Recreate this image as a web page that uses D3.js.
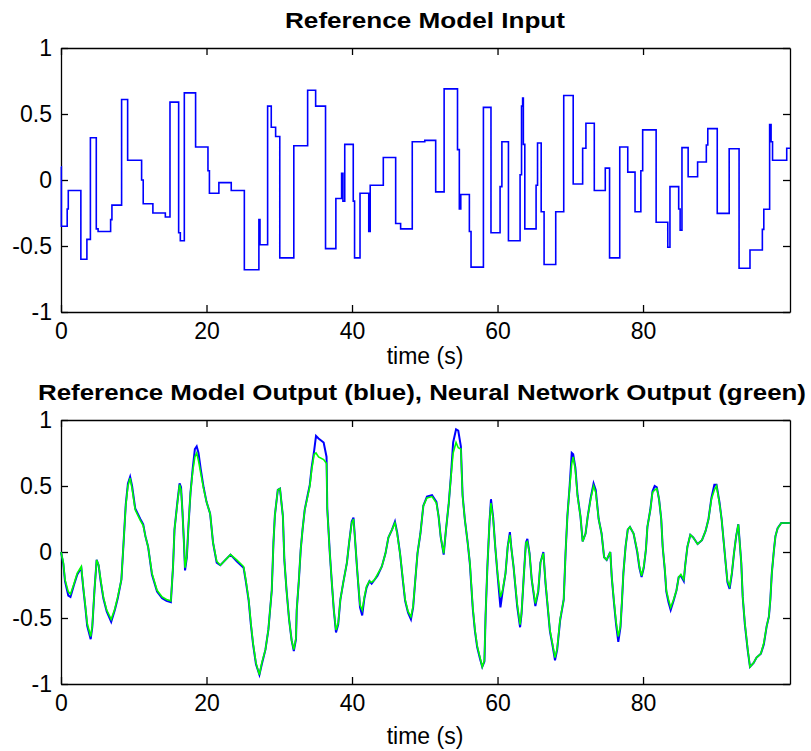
<!DOCTYPE html>
<html>
<head>
<meta charset="utf-8">
<script src="https://cdn.jsdelivr.net/npm/d3@7/dist/d3.min.js"></script>
<style>
  html, body { margin: 0; padding: 0; background: #fff; }
  svg { display: block; }
  .tick text { font-family: "Liberation Sans", Arial, Helvetica, sans-serif; font-size: 23px; fill: #000; }
  .label { font-family: "Liberation Sans", Arial, Helvetica, sans-serif; font-size: 23px; fill: #000; }
  .title { font-family: "Liberation Sans", Arial, Helvetica, sans-serif; font-size: 22px; font-weight: bold; fill: #000; }
</style>
</head>
<body>
<svg id="chart" width="811" height="751"></svg>
<script>
// ---- Reference model input: piecewise-constant levels (time each level starts, level) ----
const inputT = [0, 0.05, 0.85, 1.0, 2.73, 3.56, 4.04, 4.85, 5.1, 6.82, 7.0, 8.33, 9.16, 11.08, 11.3, 12.63,
  14.34, 14.98, 16.17, 16.4, 16.95, 18.5, 20.2, 20.4, 21.7, 23.4, 25.2, 27.2, 27.35, 28.4, 28.9, 29.5,
  30.07, 32.0, 33.9, 35.0, 36.36, 37.78, 38.57, 38.75, 39.0, 40.17, 40.35, 41.1, 42.3, 42.5, 44.3, 46.0,
  46.68, 48.28, 50.0, 51.5, 52.66, 54.5, 54.75, 54.95, 56.13, 56.36, 58.06, 59.1, 60.35, 60.6, 61.5, 63.1,
  63.3, 63.45, 63.55, 63.75, 65.3, 65.5, 66.0, 66.4, 68.0, 69.1, 70.4, 71.7, 72.15, 73.3, 74.81, 75.4,
  76.8, 77.9, 78.9, 79.7, 79.95, 81.8, 83.4, 83.7, 84.9, 85.1, 85.35, 86.2, 87.5, 88.7, 88.9, 90.2,
  91.84, 93.2, 94.7, 96.4, 96.6, 97.4, 97.6, 97.8, 99.75, 100.2];
const inputV = [0.10, -0.35, -0.22, -0.08, -0.60, -0.45, 0.32, -0.37, -0.39, -0.30, -0.19, 0.61, 0.15, 0.0, -0.18, -0.25,
  -0.28, 0.59, -0.40, -0.46, 0.66, 0.25, 0.07, -0.10, -0.02, -0.08, -0.68, -0.30, -0.49, 0.56, 0.40, 0.33,
  -0.59, 0.26, 0.68, 0.56, -0.52, -0.14, 0.05, -0.16, 0.27, -0.16, -0.59, -0.10, -0.39, -0.04, 0.17, -0.33,
  -0.37, 0.29, 0.30, -0.09, 0.69, 0.23, -0.22, -0.11, -0.39, -0.66, 0.55, -0.40, -0.05, 0.29, -0.46, 0.04,
  0.56, 0.62, 0.27, -0.37, -0.04, 0.28, -0.24, -0.64, -0.24, 0.64, -0.03, 0.24, 0.43, -0.08, 0.09, -0.59,
  0.25, 0.06, -0.24, 0.07, 0.38, -0.32, -0.51, -0.05, -0.22, -0.38, 0.245, 0.025, 0.136, 0.265, 0.389, -0.253,
  0.237, -0.669, -0.53, -0.374, -0.222, 0.42, 0.29, 0.15, 0.24, 0.24];

// ---- Outputs: sample times, reference model output (blue), neural network output (green) ----
const outT = [0, 0.32, 0.55, 1.0, 1.3, 1.78, 2.24, 2.79, 3.07, 3.35, 3.6, 4.08, 4.3, 4.6, 4.9, 5.17, 5.45, 5.82, 6.28, 6.9,
  7.4, 7.8, 8.3, 8.6, 8.9, 9.2, 9.5, 9.77, 10.2, 10.9, 11.3, 11.6, 11.97, 12.5, 13.2, 13.9, 14.5, 15.1, 15.4, 15.6,
  16.0, 16.3, 16.5, 16.7, 16.9, 17.05, 17.3, 17.5, 17.8, 18.1, 18.4, 18.65, 18.9, 19.2, 19.6, 20.0, 20.5, 20.9, 21.4, 21.9,
  22.6, 23.3, 24.15, 25.1, 25.4, 25.8, 26.1, 26.4, 26.8, 27.27, 27.6, 28.1, 28.5, 28.97, 29.2, 29.4, 29.8, 30.1, 30.5, 30.7,
  31.0, 31.35, 31.7, 32.0, 32.3, 32.4, 32.7, 32.95, 33.2, 33.5, 33.9, 34.2, 34.45, 34.8, 35.05, 35.4, 36.1, 36.5, 36.6, 36.95,
  37.26, 37.5, 37.8, 38.1, 38.4, 38.8, 39.3, 39.6, 39.96, 40.2, 40.4, 40.7, 41.1, 41.4, 41.7, 42.0, 42.4, 42.7, 43.1, 43.5,
  44.1, 44.6, 45.0, 45.5, 45.9, 46.2, 46.6, 47.0, 47.3, 47.7, 48.1, 48.4, 48.7, 49.0, 49.4, 49.8, 50.3, 51.0, 51.6, 51.9,
  52.2, 52.6, 52.9, 53.3, 53.6, 53.9, 54.3, 54.6, 54.96, 55.2, 55.5, 55.9, 56.2, 56.6, 56.9, 57.2, 57.6, 57.9, 58.2, 58.36,
  58.6, 58.9, 59.1, 59.4, 59.7, 60.0, 60.4, 60.7, 61.1, 61.4, 61.7, 61.9, 62.2, 62.7, 63.1, 63.3, 63.6, 63.9, 64.1, 64.4,
  64.7, 65.2, 65.6, 65.9, 66.3, 66.6, 66.9, 67.2, 67.6, 67.9, 68.2, 68.6, 69.1, 69.35, 69.6, 69.9, 70.2, 70.4, 70.7, 71.0,
  71.4, 71.7, 72.1, 72.4, 72.8, 73.2, 73.5, 73.9, 74.3, 74.65, 75.0, 75.5, 75.7, 76.0, 76.3, 76.6, 76.9, 77.1, 77.3, 77.6,
  77.9, 78.2, 78.7, 79.2, 79.5, 79.8, 80.1, 80.4, 80.6, 81.0, 81.3, 81.6, 81.9, 82.2, 82.5, 82.7, 83.0, 83.2, 83.5, 83.8,
  84.2, 84.6, 84.9, 85.2, 85.6, 85.8, 86.1, 86.5, 86.9, 87.5, 88.1, 88.6, 89.0, 89.4, 89.8, 90.1, 90.5, 90.8, 91.1, 91.4,
  91.6, 91.9, 92.2, 92.5, 92.8, 93.1, 93.5, 93.7, 94.0, 94.4, 94.7, 95.2, 95.6, 96.2, 96.6, 97.0, 97.3, 97.5, 97.7, 98.0,
  98.2, 98.5, 99.0, 100.2];
const modelOut = [0, -0.09, -0.22, -0.33, -0.34, -0.25, -0.17, -0.12, -0.28, -0.42, -0.56, -0.66, -0.57, -0.29, -0.06, -0.10, -0.22, -0.35, -0.45, -0.53,
  -0.44, -0.35, -0.21, 0.07, 0.36, 0.52, 0.57, 0.50, 0.33, 0.25, 0.21, 0.12, 0.04, -0.17, -0.30, -0.35, -0.37, -0.38, -0.11, 0.17,
  0.38, 0.52, 0.49, 0.30, 0.07, -0.14, -0.04, 0.18, 0.45, 0.63, 0.78, 0.80, 0.75, 0.63, 0.49, 0.38, 0.29, 0.07, -0.08, -0.10,
  -0.06, -0.02, -0.07, -0.12, -0.22, -0.37, -0.55, -0.70, -0.85, -0.93, -0.85, -0.74, -0.59, -0.29, 0.07, 0.28, 0.47, 0.48, 0.27, -0.06,
  -0.29, -0.51, -0.67, -0.75, -0.66, -0.44, -0.21, 0.02, 0.17, 0.32, 0.43, 0.51, 0.64, 0.77, 0.88, 0.86, 0.83, 0.72, 0.33, -0.01,
  -0.26, -0.44, -0.61, -0.55, -0.36, -0.23, -0.08, 0.07, 0.23, 0.26, 0.11, -0.13, -0.42, -0.48, -0.35, -0.27, -0.22, -0.24, -0.21, -0.18,
  -0.11, -0.01, 0.11, 0.17, 0.23, 0.15, -0.01, -0.22, -0.37, -0.46, -0.51, -0.42, -0.21, -0.01, 0.14, 0.35, 0.42, 0.43, 0.38, 0.27,
  0.11, -0.02, 0.16, 0.37, 0.58, 0.83, 0.93, 0.92, 0.80, 0.43, 0.25, 0.07, -0.09, -0.43, -0.60, -0.72, -0.81, -0.87, -0.83, -0.48,
  -0.12, 0.23, 0.40, 0.26, 0.03, -0.17, -0.42, -0.30, -0.16, 0.04, 0.15, 0.03, -0.11, -0.41, -0.57, -0.47, -0.19, 0.07, 0.10, -0.01,
  -0.21, -0.41, -0.30, -0.08, 0.00, -0.24, -0.42, -0.60, -0.72, -0.82, -0.74, -0.52, -0.36, -0.01, 0.27, 0.49, 0.75, 0.74, 0.64, 0.43,
  0.27, 0.08, 0.14, 0.27, 0.41, 0.52, 0.47, 0.25, 0.14, -0.04, -0.06, 0.00, -0.19, -0.38, -0.55, -0.68, -0.57, -0.38, -0.16, 0.04,
  0.17, 0.19, 0.14, 0.00, -0.12, -0.19, -0.12, 0.02, 0.19, 0.32, 0.46, 0.50, 0.49, 0.40, 0.25, 0.04, -0.14, -0.30, -0.38, -0.44,
  -0.37, -0.29, -0.19, -0.18, -0.22, -0.10, 0.04, 0.13, 0.11, 0.06, 0.09, 0.16, 0.25, 0.41, 0.51, 0.51, 0.38, 0.25, 0.07, -0.11,
  -0.23, -0.28, -0.17, -0.01, 0.12, 0.21, -0.08, -0.34, -0.55, -0.75, -0.87, -0.84, -0.80, -0.77, -0.70, -0.56, -0.49, -0.36, -0.16, 0.02,
  0.12, 0.18, 0.22, 0.22];
const netOut = [0, -0.08, -0.21, -0.30, -0.32, -0.24, -0.16, -0.11, -0.27, -0.41, -0.54, -0.64, -0.56, -0.29, -0.06, -0.10, -0.21, -0.34, -0.44, -0.51,
  -0.43, -0.34, -0.21, 0.07, 0.35, 0.50, 0.56, 0.48, 0.32, 0.24, 0.20, 0.12, 0.04, -0.16, -0.29, -0.34, -0.36, -0.37, -0.11, 0.17,
  0.37, 0.51, 0.47, 0.30, 0.07, -0.12, -0.03, 0.18, 0.45, 0.61, 0.72, 0.75, 0.69, 0.60, 0.48, 0.38, 0.29, 0.07, -0.07, -0.10,
  -0.06, -0.02, -0.06, -0.11, -0.21, -0.36, -0.54, -0.69, -0.84, -0.93, -0.84, -0.74, -0.59, -0.29, 0.07, 0.28, 0.47, 0.48, 0.27, -0.06,
  -0.29, -0.51, -0.67, -0.74, -0.65, -0.44, -0.21, 0.02, 0.17, 0.32, 0.42, 0.50, 0.62, 0.74, 0.75, 0.72, 0.70, 0.67, 0.32, -0.01,
  -0.26, -0.44, -0.59, -0.54, -0.36, -0.23, -0.08, 0.07, 0.22, 0.25, 0.11, -0.13, -0.40, -0.44, -0.34, -0.26, -0.22, -0.23, -0.21, -0.17,
  -0.11, -0.01, 0.11, 0.17, 0.22, 0.14, -0.01, -0.21, -0.36, -0.45, -0.49, -0.41, -0.21, -0.01, 0.14, 0.35, 0.41, 0.42, 0.37, 0.27,
  0.11, -0.01, 0.16, 0.37, 0.57, 0.75, 0.83, 0.79, 0.78, 0.42, 0.25, 0.07, -0.08, -0.42, -0.59, -0.71, -0.80, -0.87, -0.82, -0.48,
  -0.12, 0.23, 0.37, 0.25, 0.03, -0.16, -0.34, -0.29, -0.16, 0.04, 0.13, 0.03, -0.11, -0.39, -0.55, -0.46, -0.19, 0.07, 0.08, -0.01,
  -0.21, -0.39, -0.29, -0.08, -0.01, -0.23, -0.41, -0.59, -0.71, -0.80, -0.73, -0.51, -0.36, -0.01, 0.27, 0.48, 0.67, 0.72, 0.62, 0.42,
  0.27, 0.08, 0.14, 0.27, 0.40, 0.50, 0.45, 0.25, 0.14, -0.04, -0.06, 0.00, -0.19, -0.37, -0.53, -0.64, -0.56, -0.37, -0.16, 0.04,
  0.17, 0.19, 0.14, 0.01, -0.11, -0.18, -0.11, 0.02, 0.19, 0.32, 0.45, 0.47, 0.48, 0.40, 0.25, 0.04, -0.13, -0.29, -0.36, -0.42,
  -0.36, -0.29, -0.19, -0.17, -0.21, -0.10, 0.04, 0.13, 0.11, 0.06, 0.09, 0.16, 0.25, 0.40, 0.47, 0.50, 0.37, 0.25, 0.07, -0.11,
  -0.22, -0.26, -0.16, -0.01, 0.12, 0.21, -0.08, -0.34, -0.54, -0.74, -0.87, -0.84, -0.80, -0.77, -0.69, -0.56, -0.49, -0.36, -0.16, 0.02,
  0.12, 0.18, 0.22, 0.22];

// ---- Axis ticks and labels ----
const xTicks = [0, 20, 40, 60, 80];
const yTicks = [-1, -0.5, 0, 0.5, 1];
const titles = ["Reference Model Input", "Reference Model Output (blue), Neural Network Output (green)"];
const xLabel = "time (s)";

const svg = d3.select("#chart");
const left = 61, right = 790;
const x = d3.scaleLinear().domain([0, 100.2]).range([left, right]);

function panel(top, bottom) {
  const y = d3.scaleLinear().domain([-1, 1]).range([bottom, top]);
  const g = svg.append("g");
  const fmt = d => (d === 0 ? "0" : String(d));

  g.append("g").attr("transform", `translate(0,${bottom})`)
    .call(d3.axisBottom(x).tickValues(xTicks).tickSize(-7).tickSizeOuter(0).tickPadding(11).tickFormat(fmt));
  g.append("g").attr("transform", `translate(0,${top})`)
    .call(d3.axisTop(x).tickValues(xTicks).tickSize(-7).tickSizeOuter(0).tickFormat(""));
  g.append("g").attr("transform", `translate(${left},0)`)
    .call(d3.axisLeft(y).tickValues(yTicks).tickSize(-7).tickSizeOuter(0).tickPadding(9).tickFormat(fmt));
  g.append("g").attr("transform", `translate(${right},0)`)
    .call(d3.axisRight(y).tickValues(yTicks).tickSize(-7).tickSizeOuter(0).tickFormat(""));
  g.selectAll(".domain, .tick line").attr("stroke", "#000").attr("stroke-width", 1.3);
  return { g, y };
}

// Top panel: reference model input
const p1 = panel(48, 312);
const inputPts = inputT.map((t, i) => [t, inputV[i]]);
p1.g.append("path")
  .datum(inputPts)
  .attr("fill", "none")
  .attr("stroke", "#0000ff")
  .attr("stroke-width", 1.6)
  .attr("d", d3.line().x(d => x(d[0])).y(d => p1.y(d[1])).curve(d3.curveStepAfter));

// Bottom panel: reference model output (blue) with network output (green) drawn over it
const p2 = panel(420, 684);
const modelPts = outT.map((t, i) => [t, modelOut[i]]);
const netPts = outT.map((t, i) => [t, netOut[i]]);
const outLine = d3.line().x(d => x(d[0])).curve(d3.curveLinear);
p2.g.append("path")
  .datum(modelPts)
  .attr("fill", "none")
  .attr("stroke", "#0000ff")
  .attr("stroke-width", 2.0)
  .attr("d", outLine.y(d => p2.y(d[1])));
p2.g.append("path")
  .datum(netPts)
  .attr("fill", "none")
  .attr("stroke", "#00ff00")
  .attr("stroke-width", 1.6)
  .attr("d", outLine.y(d => p2.y(d[1])));

// Titles and axis labels
svg.append("text").attr("class", "title").attr("x", 425).attr("y", 28)
  .attr("text-anchor", "middle").attr("textLength", 280).attr("lengthAdjust", "spacingAndGlyphs").text(titles[0]);
svg.append("text").attr("class", "title").attr("x", 422).attr("y", 400)
  .attr("text-anchor", "middle").attr("textLength", 768).attr("lengthAdjust", "spacingAndGlyphs").text(titles[1]);
svg.append("text").attr("class", "label").attr("x", 425).attr("y", 364).attr("text-anchor", "middle").text(xLabel);
svg.append("text").attr("class", "label").attr("x", 425).attr("y", 744).attr("text-anchor", "middle").text(xLabel);
</script>
</body>
</html>
